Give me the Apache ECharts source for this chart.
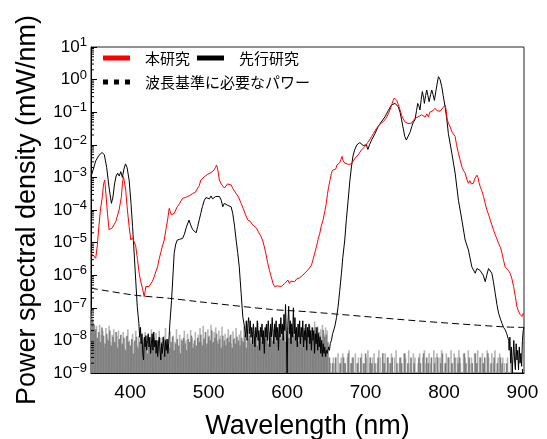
<!DOCTYPE html>
<html>
<head>
<meta charset="utf-8">
<script src="https://cdn.jsdelivr.net/npm/echarts@6/dist/echarts.min.js"></script>
<style>
  html, body { margin: 0; padding: 0; background: #fff; }
  #chart { width: 547px; height: 439px; }
</style>
</head>
<body>
<div id="chart"></div>
<script>
// Axis ticks
const xTickLabels = [400, 500, 600, 700, 800, 900];
const yTickExponents = [1, 0, -1, -2, -3, -4, -5, -6, -7, -8, -9];
const yMinorMantissas = [2, 3, 4, 5, 6, 7, 8, 9];

// Power spectral density of this work, [wavelength nm, mW/nm]
const thisStudy = [
  [350, 4.7e-6], [353, 4.0e-6], [356, 3.3e-6], [358, 7.9e-6], [360, 3.1e-5], [362, 1.0e-4],
  [364.5, 2.6e-4], [366, 6.3e-4], [367.5, 8.3e-4], [369, 3.2e-4], [371, 7.9e-5], [373, 2.5e-5],
  [375, 2.5e-5], [377, 2.8e-5], [379, 3.2e-5], [381.6, 4.4e-5], [384, 5.0e-5], [385.8, 1.0e-4],
  [388.8, 2.6e-4], [390, 6.3e-4], [391.4, 1.05e-3], [392.5, 1.0e-3], [394.3, 4.1e-4], [396, 1.26e-4],
  [398.6, 3.1e-5], [400.8, 1.2e-5], [403, 1.4e-5], [405, 1.5e-5], [407, 7.9e-6], [409.3, 3.0e-6],
  [411.4, 1.15e-6], [413.5, 6.3e-7], [415.6, 4.0e-7], [417.8, 2.2e-7], [419, 3.2e-7], [420, 4.5e-7],
  [422, 5.0e-7], [424, 4.5e-7], [426.3, 4.0e-7], [428, 6.3e-7], [430.6, 8.9e-7], [432.5, 1.26e-6],
  [434.8, 1.8e-6], [437, 3.2e-6], [439, 5.0e-6], [441, 7.9e-6], [443.4, 1.2e-5], [445.5, 2.5e-5],
  [447.6, 4.9e-5], [449.7, 1.12e-4], [451, 1.0e-4], [452.5, 7.1e-5], [454, 6.3e-5], [456, 7.9e-5],
  [458, 1.0e-4], [460, 1.26e-4], [463, 1.6e-4], [466.8, 2.3e-4], [470, 2.4e-4], [473, 2.6e-4],
  [476, 2.8e-4], [479.6, 3.2e-4], [483, 3.5e-4], [486, 4.7e-4], [488, 5.6e-4], [490, 8.3e-4],
  [492, 8.9e-4], [494.5, 1.05e-3], [497, 1.12e-3], [499, 1.26e-3], [501, 1.35e-3], [503, 1.4e-3],
  [505, 1.6e-3], [507, 1.7e-3], [508.5, 2.0e-3], [510, 2.4e-3], [511.5, 1.8e-3], [513.7, 8.3e-4],
  [516, 6.3e-4], [518, 5.6e-4], [520, 4.7e-4], [522, 5.0e-4], [524, 6.3e-4], [526, 5.6e-4],
  [528.6, 5.9e-4], [531, 4.5e-4], [533, 4.0e-4], [535, 3.2e-4], [538, 2.5e-4], [541.4, 1.6e-4],
  [544, 1.12e-4], [547, 7.1e-5], [550, 4.9e-5], [553, 4.5e-5], [556, 3.5e-5], [558.4, 3.9e-5],
  [561, 2.8e-5], [564, 2.0e-5], [567, 1.5e-5], [569, 1.12e-5], [571, 7.4e-6], [573, 4.5e-6],
  [575.4, 2.3e-6], [577.5, 1.4e-6], [579.8, 8.9e-7], [582, 5.6e-7], [584, 4.5e-7], [586, 4.0e-7],
  [588, 4.7e-7], [590, 4.2e-7], [592.6, 4.5e-7], [595, 5.0e-7], [597, 5.6e-7], [599, 6.3e-7],
  [601, 7.1e-7], [603, 5.6e-7], [605, 6.6e-7], [607, 6.0e-7], [609.6, 6.3e-7], [612, 7.6e-7],
  [614, 7.1e-7], [616, 8.3e-7], [618, 8.9e-7], [620, 1.0e-6], [622, 8.9e-7], [624, 1.26e-6],
  [626.6, 1.45e-6], [629, 1.5e-6], [631, 2.0e-6], [633, 3.0e-6], [635, 4.5e-6], [637.3, 7.4e-6],
  [639.5, 1.26e-5], [641.6, 1.9e-5], [643.5, 3.2e-5], [645.8, 4.9e-5], [648, 8.9e-5], [650, 1.6e-4],
  [651.5, 3.2e-4], [653, 5.2e-4], [655, 8.9e-4], [656.5, 1.35e-3], [658, 1.66e-3], [659.8, 1.9e-3],
  [662, 1.8e-3], [663.5, 2.4e-3], [665, 2.4e-3], [667, 2.8e-3], [668.5, 3.5e-3], [670, 4.4e-3],
  [671.5, 3.2e-3], [673.5, 2.75e-3], [676, 2.8e-3], [678, 2.5e-3], [680, 2.7e-3], [682, 2.6e-3],
  [684.5, 3.2e-3], [687, 4.0e-3], [690.5, 4.9e-3], [693, 5.6e-3], [695, 7.1e-3], [697, 7.9e-3],
  [699, 8.7e-3], [701, 1.0e-2], [703, 1.2e-2], [705, 1.4e-2], [707.7, 1.8e-2], [710, 2.2e-2],
  [712, 2.5e-2], [714, 3.2e-2], [716, 3.6e-2], [718, 4.2e-2], [720, 4.5e-2], [722, 5.0e-2],
  [724.7, 5.8e-2], [727, 7.1e-2], [729, 8.9e-2], [731, 0.117], [733, 0.158], [735, 0.224],
  [736.6, 0.27], [738, 0.28], [739.6, 0.234], [741.5, 0.178], [744, 0.117], [746, 7.9e-2],
  [748, 6.3e-2], [750, 5.1e-2], [752, 5.0e-2], [754, 4.5e-2], [756, 5.0e-2], [758.8, 4.6e-2],
  [761, 5.6e-2], [763, 6.5e-2], [765, 6.6e-2], [767, 7.2e-2], [769, 6.3e-2], [771.6, 8.3e-2],
  [774, 7.9e-2], [776, 7.1e-2], [778, 8.9e-2], [780, 7.2e-2], [782, 0.1], [784, 8.9e-2],
  [786, 0.112], [788.6, 0.132], [791, 0.112], [793, 0.126], [795, 0.107], [797.2, 0.117],
  [799, 0.141], [801.4, 0.166], [802.5, 0.126], [804, 6.3e-2], [805.6, 4.6e-2], [808, 3.5e-2],
  [810, 2.5e-2], [812, 2.2e-2], [814.2, 1.8e-2], [816, 1.0e-2], [818.4, 5.5e-3], [820.5, 3.5e-3],
  [822.8, 2.1e-3], [825, 1.6e-3], [827, 1.35e-3], [829, 8.9e-4], [831.2, 6.6e-4], [833, 7.9e-4],
  [835, 6.3e-4], [837.6, 6.6e-4], [839, 8.9e-4], [840.5, 7.9e-4], [842, 1.17e-3], [843.5, 1.0e-3],
  [844.5, 7.1e-4], [846.2, 5.2e-4], [848, 4.0e-4], [850.4, 2.6e-4], [852.5, 1.6e-4], [854.7, 1.0e-4],
  [857, 7.1e-5], [859, 4.9e-5], [861, 3.5e-5], [863, 2.5e-5], [865, 1.8e-5], [867, 1.4e-5],
  [869.6, 9.5e-6], [872, 7.1e-6], [874, 4.7e-6], [876, 2.8e-6], [878, 1.8e-6], [880, 1.6e-6],
  [882, 1.4e-6], [884.4, 1.15e-6], [886.5, 7.9e-7], [888.7, 4.5e-7], [891, 2.2e-7], [893, 1.07e-7],
  [895, 7.9e-8], [897, 6.3e-8], [899.4, 5.4e-8], [901, 6.8e-8]
];

// Power spectral density of the earlier work, [wavelength nm, mW/nm]
const prevStudy = [
  [350, 1.05e-3], [353, 1.8e-3], [356, 3.2e-3], [360, 4.7e-3], [364, 5.8e-3], [367, 5.0e-3],
  [370, 2.0e-3], [373, 5.0e-4], [376, 1.6e-4], [378, 2.5e-4], [380, 6.3e-4], [382, 1.1e-3],
  [384, 1.35e-3], [386, 1.1e-3], [388, 1.5e-3], [390, 1.0e-3], [392, 1.8e-3], [394, 2.6e-3],
  [396, 2.0e-3], [398.6, 8.3e-4], [401, 1.6e-4], [403, 3.1e-5], [405, 4.8e-6], [407, 7.1e-7],
  [409, 1.07e-7], [411, 3.4e-8],
  [412, 1.26e-8], [413, 2.5e-8], [414, 7.9e-9], [415, 1.6e-8], [416, 4.0e-9], [417, 2.5e-9],
  [418, 1.26e-8], [419, 6.3e-9], [420, 1.4e-8], [421, 5.0e-9], [422, 1.0e-8], [423, 1.6e-8],
  [424, 6.3e-9], [425, 1.26e-8], [426, 4.0e-9], [427, 7.9e-9], [428, 1.6e-8], [429, 5.0e-9],
  [430, 1.8e-8], [431, 6.3e-9], [432, 1.0e-8], [433, 4.0e-9], [434, 1.0e-8], [435, 3.2e-9],
  [436, 7.9e-9], [437, 1.26e-8], [438, 5.0e-9], [439, 2.5e-9], [440, 7.9e-9], [441, 4.0e-9],
  [442, 1.26e-8], [443, 6.3e-9], [444, 3.2e-9], [445, 1.0e-8], [446, 5.0e-9], [447, 1.1e-8],
  [448, 4.0e-9], [449, 7.9e-9],
  [450.5, 3.2e-8], [452.7, 1.7e-7], [454.5, 1.0e-6], [456, 4.7e-6], [458, 8.9e-6], [460, 1.2e-5],
  [463, 1.26e-5], [466.8, 1.35e-5], [469, 1.8e-5], [472, 3.2e-5], [475, 4.9e-5], [477, 3.5e-5],
  [479.6, 2.5e-5], [482, 2.8e-5], [484, 2.0e-5], [486, 3.1e-5], [488, 5.0e-5], [490, 7.9e-5],
  [492, 1.26e-4], [494.5, 2.0e-4], [496.5, 2.4e-4], [498.7, 2.6e-4], [501, 2.2e-4], [503, 2.7e-4],
  [505, 2.2e-4], [507, 2.4e-4], [509, 2.6e-4], [511, 2.3e-4], [513.7, 2.6e-4], [516, 2.0e-4],
  [518, 1.26e-4], [520, 1.6e-4], [522, 1.8e-4], [524, 1.4e-4], [526, 1.6e-4], [528.6, 1.26e-4],
  [530.7, 7.9e-5], [533, 3.2e-5], [535, 1.2e-5], [537, 5.0e-6], [539, 1.8e-6], [541.4, 2.8e-7],
  [543.5, 5.4e-8], [545.7, 2.6e-8],
  [546, 2.5e-8], [547, 1.26e-8], [548, 4.0e-8], [549, 1.0e-8], [550, 3.2e-8], [551, 5.0e-8],
  [552, 1.6e-8], [553, 4.0e-8], [554, 1.26e-8], [555, 2.5e-8], [556, 7.9e-9], [557, 3.2e-8],
  [558, 1.6e-8], [559, 6.3e-9], [560, 2.5e-8], [561, 1.26e-8], [562, 4.0e-8], [563, 1.0e-8],
  [564, 2.0e-8], [565, 5.0e-9], [566, 2.5e-8], [567, 1.26e-8], [568, 3.2e-8], [569, 7.9e-9],
  [570, 2.0e-8], [571, 4.0e-9], [572, 2.5e-8], [573, 1.26e-8], [574, 3.2e-8], [575, 1.0e-8],
  [576, 4.0e-8], [577, 1.6e-8], [578, 6.3e-9], [579, 3.2e-8], [580, 1.26e-8], [581, 5.0e-8],
  [582, 1.6e-8], [583, 7.9e-9], [584, 3.2e-8], [585, 1.26e-8], [586, 4.0e-8], [587, 1.0e-8],
  [588, 2.5e-8], [589, 5.0e-9], [590, 3.2e-8], [591, 1.26e-8], [592, 5.0e-8], [593, 1.6e-8],
  [594, 3.2e-8], [595, 1.0e-8], [596, 6.3e-8], [597, 2.0e-8], [598, 1.26e-7], [599, 1.6e-8],
  [600, 1.0e-9], [601, 3.2e-8], [602, 1.12e-7], [603, 1.6e-8], [604, 4.0e-8], [605, 7.9e-9],
  [606, 3.2e-8], [607, 1.26e-8], [608, 1.0e-7], [609, 1.6e-8], [610, 5.0e-8], [611, 1.0e-8],
  [612, 2.5e-8], [613, 6.3e-9], [614, 3.2e-8], [615, 1.26e-8], [616, 4.0e-8], [617, 7.9e-9],
  [618, 2.5e-8], [619, 1.26e-8], [620, 4.0e-8], [621, 6.3e-9], [622, 2.0e-8], [623, 1.0e-8],
  [624, 3.2e-8], [625, 5.0e-9], [626, 2.5e-8], [627, 1.26e-8], [628, 3.2e-8], [629, 7.9e-9],
  [630, 2.0e-8], [631, 5.0e-9], [632, 2.5e-8], [633, 1.0e-8], [634, 2.0e-8], [635, 4.0e-9],
  [636, 1.6e-8], [637, 7.9e-9], [638, 2.5e-8], [639, 5.0e-9], [640, 1.6e-8], [641, 6.3e-9],
  [642, 1.26e-8], [643, 4.0e-9], [644, 1.0e-8], [645, 3.2e-9], [646, 7.9e-9], [647, 4.0e-9],
  [648, 6.3e-9], [649, 3.2e-9], [650, 5.0e-9], [651, 4.0e-9], [652, 4.5e-9], [653, 6.3e-9],
  [654, 5.0e-9], [655, 7.9e-9],
  [656.5, 1.0e-8], [658, 1.6e-8], [660.7, 2.6e-8], [663, 5.0e-8], [665, 1.07e-7], [667, 3.2e-7],
  [669.3, 1.15e-6], [671, 3.5e-6], [673.5, 1.2e-5], [675.5, 5.0e-5], [677.8, 2.0e-4], [680, 7.9e-4],
  [682, 2.1e-3], [684, 4.5e-3], [686, 6.9e-3], [689, 1.0e-2], [692.7, 1.17e-2], [695, 1.05e-2],
  [697, 9.5e-3], [699, 8.7e-3], [701, 1.0e-2], [703, 7.2e-3], [705, 1.0e-2], [707.7, 1.4e-2],
  [712, 2.2e-2], [716, 3.6e-2], [720, 5.0e-2], [724.7, 7.2e-2], [729, 0.112], [733, 0.166],
  [737.5, 0.186], [741.7, 0.148], [744, 0.1], [746, 5.8e-2], [748, 3.2e-2], [750, 1.8e-2],
  [752, 1.4e-2], [754.5, 1.4e-2], [757, 2.5e-2], [758.8, 3.6e-2], [761, 5.0e-2], [763, 5.8e-2],
  [765, 0.112], [766.5, 0.186], [768, 0.158], [769.4, 0.117], [771, 0.25], [772.4, 0.43],
  [774, 0.28], [775, 0.186], [776.5, 0.32], [778, 0.48], [779.5, 0.32], [781, 0.21],
  [783, 0.35], [784.4, 0.48], [786, 0.35], [787.8, 0.23], [790, 0.5], [792.9, 1.23],
  [795, 1.0], [797.2, 0.6], [799, 0.32], [801.4, 0.148], [803.5, 6.3e-2], [805.6, 2.2e-2],
  [810, 5.5e-3], [814.2, 1.35e-3], [818.4, 2.0e-4], [822.8, 4.9e-5], [827, 1.2e-5], [829, 1.35e-5],
  [831.2, 5.9e-6], [835.5, 1.8e-6], [839.8, 1.15e-6], [842, 1.6e-6], [844, 1.8e-6], [846, 1.4e-6],
  [848.3, 1.45e-6], [850, 1.0e-6], [852.6, 6.3e-7], [854.5, 1.0e-6], [856.8, 1.6e-6], [859, 1.4e-6],
  [861, 1.15e-6], [863, 6.3e-7], [865.3, 2.8e-7], [867.5, 1.26e-7], [869.6, 6.8e-8], [872, 4.5e-8],
  [874, 3.3e-8], [876, 2.5e-8], [878, 2.1e-8], [880, 1.6e-8], [882.5, 1.0e-8],
  [883, 5.0e-9], [884, 1.26e-8], [885, 2.0e-9], [886, 6.3e-9], [887, 1.0e-9], [888, 3.2e-9],
  [889, 1.0e-8], [890, 2.5e-9], [891, 1.26e-9], [892, 7.9e-9], [893, 2.5e-9], [894, 5.0e-9],
  [895, 1.26e-9], [896, 6.3e-9], [897, 2.0e-9], [898, 4.0e-9], [899, 1.6e-9], [900, 1.0e-8],
  [901, 2.0e-8], [902, 2.5e-8]
];

// Power needed for the wavelength reference, [wavelength nm, mW/nm]
const requiredPower = [
  [350, 4.0e-7], [405, 2.45e-7], [450, 1.95e-7], [486, 1.55e-7], [580, 8.9e-8],
  [625, 7.6e-8], [765, 4.0e-8], [876, 2.6e-8], [902, 2.5e-8]
];

// Detector noise floor, sampled every 2 nm, in pW/nm
const noiseStepNm = 2;
const noiseDarkStartNm = 350;
const noiseDarkPW = [
  80, 45, 30, 22, 12, 18, 9, 25, 14, 8,
  16, 10, 20, 7, 13, 9, 18, 6, 11, 15,
  8, 12, 5, 14, 9, 7, 11, 4, 10, 13,
  6, 9, 12, 5, 8, 10, 4, 11, 7, 9,
  12, 5, 8, 10, 6, 9, 4, 11, 7, 10,
  6, 9, 13, 5, 8, 11, 7, 4, 10, 12,
  8, 5, 11, 9, 14, 6, 10, 7, 12, 9,
  15, 7, 11, 18, 8, 13, 10, 20, 9, 12,
  16, 8, 11, 6, 14, 10, 7, 12, 9, 15,
  6, 11, 8, 13, 10, 7, 12, 9, 15, 6,
  11, 14, 8, 18, 10, 13, 7, 16, 12, 9,
  20, 11, 15, 8, 18, 12, 10, 22, 9, 14,
  17, 11, 25, 13, 9, 19, 12, 30, 10, 16,
  13, 22, 9, 18, 12, 15, 24, 10, 17, 13,
  20, 11, 16, 26, 12, 18, 14, 10, 21, 13,
  15, 9, 3, 0, 2, 0, 3, 0, 0, 2,
  0, 3, 2, 0, 4, 0, 2, 3, 0, 0,
  2, 0, 3, 0, 2, 4, 0, 0, 3, 2,
  0, 2, 0, 3, 0, 0, 4, 2, 0, 3,
  0, 2, 3, 0, 0, 2, 0, 3, 2, 0,
  4, 0, 2, 0, 3, 0, 2, 0, 0, 3,
  2, 0, 4, 0, 3, 2, 0, 3, 0, 2,
  0, 3, 0, 2, 4, 0, 2, 0, 3, 0,
  2, 0, 3, 0, 2, 3, 0, 0, 4, 2,
  0, 3, 0, 2, 0, 4, 2, 0, 3, 0,
  2, 3, 0, 4, 0, 2, 0, 3, 0, 2,
  0, 3, 2, 0, 0, 2, 0, 0, 0, 0,
  0, 0, 0, 0, 0, 0
];
const noiseLightStartNm = 351;
const noiseLightPW = [
  60, 35, 20, 28, 10, 30, 15, 20, 6, 24,
  12, 28, 9, 15, 22, 8, 14, 20, 10, 7,
  18, 6, 13, 22, 10, 5, 16, 9, 20, 7,
  14, 25, 8, 11, 18, 6, 15, 9, 22, 5,
  10, 17, 7, 20, 12, 5, 14, 24, 8, 11,
  19, 6, 14, 9, 22, 5, 15, 11, 7, 20,
  10, 16, 6, 21, 12, 8, 18, 5, 15, 24,
  9, 28, 12, 6, 22, 14, 30, 8, 18, 25,
  10, 20, 14, 26, 7, 16, 11, 22, 13, 8,
  19, 12, 24, 8, 15, 20, 10, 27, 13, 9,
  22, 15, 10, 28, 13, 19, 35, 11, 24, 16,
  12, 30, 18, 14, 26, 9, 22, 33, 15, 20,
  28, 13, 22, 40, 16, 25, 12, 35, 18, 27,
  21, 14, 32, 17, 25, 11, 30, 19, 23, 28,
  15, 24, 38, 13, 27, 18, 22, 30, 16, 25,
  20, 0, 2, 0, 3, 2, 0, 4, 2, 3,
  4, 2, 0, 3, 5, 2, 3, 0, 4, 2,
  3, 0, 4, 2, 0, 3, 5, 2, 0, 3,
  4, 0, 2, 5, 3, 0, 2, 4, 0, 3,
  2, 4, 0, 3, 5, 0, 2, 3, 0, 4,
  3, 0, 5, 2, 0, 4, 3, 0, 2, 4,
  0, 3, 5, 2, 0, 4, 2, 0, 5, 3,
  4, 0, 3, 5, 0, 2, 4, 3, 0, 5,
  2, 4, 0, 3, 5, 2, 0, 4, 3, 0,
  5, 2, 3, 0, 4, 2, 5, 0, 3, 4,
  2, 0, 5, 3, 0, 4, 2, 5, 0, 3,
  4, 0, 3, 2, 0, 3, 0, 2, 0, 0,
  0, 0, 0, 0, 0
];

const X_MIN = 350, X_MAX = 902;
const Y_MIN = Math.pow(10, Math.min(...yTickExponents));
const Y_MAX = Math.pow(10, Math.max(...yTickExponents));
const PW_TO_MW = 1e-9;

function noiseSeriesData(startNm, valuesPW) {
  return valuesPW
    .map((p, i) => [startNm + i * noiseStepNm, p * PW_TO_MW])
    .filter(d => d[1] > Y_MIN);
}

function noiseRenderer(color) {
  return function (params, api) {
    const x = api.value(0);
    const top = api.coord([x, api.value(1)]);
    const base = api.coord([x, Y_MIN]);
    return {
      type: 'line',
      shape: { x1: top[0], y1: base[1], x2: top[0], y2: top[1] },
      style: { stroke: color, lineWidth: 1.6 }
    };
  };
}

// Log-spaced minor ticks (2..9 in each decade) on the left axis
const minorTickData = [];
yTickExponents.slice(1).forEach(e => {
  yMinorMantissas.forEach(m => minorTickData.push([X_MIN, m * Math.pow(10, e)]));
});

const labelFont = 'Liberation Sans, Arial, sans-serif';
const chart = echarts.init(document.getElementById('chart'), null, { renderer: 'canvas' });

chart.setOption({
  animation: false,
  backgroundColor: '#fff',
  grid: {
    left: 91, right: 23, top: 47, bottom: 66,
    show: true, borderColor: '#222', borderWidth: 1,
    containLabel: false, outerBoundsMode: 'none'
  },
  legend: {
    left: 103, top: 49.5, width: 200, padding: 0,
    itemGap: 7, itemWidth: 27, itemHeight: 5,
    selectedMode: false,
    textStyle: {
      fontFamily: 'Noto Sans CJK JP', fontSize: 15, color: '#000',
      lineHeight: 17, padding: [0, 0, 0, 10]
    },
    data: [
      { name: '本研究', icon: 'rect' },
      { name: '先行研究', icon: 'rect' },
      { name: '波長基準に必要なパワー', icon: 'path://M0,0h5v5h-5zM11,0h5v5h-5zM22,0h5v5h-5z' }
    ]
  },
  xAxis: {
    type: 'value', min: X_MIN, max: X_MAX, interval: 50,
    name: 'Wavelength (nm)', nameLocation: 'middle', nameGap: 40,
    nameTextStyle: { fontFamily: labelFont, fontSize: 27, color: '#000' },
    axisLine: { show: true, lineStyle: { color: '#000', width: 1 } },
    axisTick: { show: true, inside: true, length: 4, lineStyle: { color: '#000' } },
    splitLine: { show: false },
    axisLabel: {
      interval: 0, margin: 10, showMaxLabel: false,
      fontFamily: labelFont, fontSize: 19, color: '#000',
      formatter: v => (xTickLabels.includes(v) ? String(v) : '')
    }
  },
  yAxis: {
    type: 'log', logBase: 10, min: Y_MIN, max: Y_MAX, splitNumber: 10,
    name: 'Power spectral density (mW/nm)', nameLocation: 'middle', nameGap: 50, nameRotate: 90,
    nameTextStyle: { fontFamily: labelFont, fontSize: 27, color: '#000' },
    axisLine: { show: true, lineStyle: { color: '#000', width: 1 } },
    axisTick: { show: true, inside: true, length: 6, lineStyle: { color: '#000' } },
    splitLine: { show: false },
    axisLabel: {
      margin: 4,
      formatter: v => {
        const e = Math.round(Math.log10(v));
        return '{b|10}{s|' + (e < 0 ? '\u2212' + (-e) : e) + '}';
      },
      rich: {
        b: { fontFamily: labelFont, fontSize: 17, lineHeight: 22, color: '#000' },
        s: { fontFamily: labelFont, fontSize: 13, lineHeight: 14, verticalAlign: 'top', color: '#000' }
      }
    }
  },
  series: [
    {
      name: 'noise-light', type: 'custom', silent: true, z: 1,
      renderItem: noiseRenderer('#b5b5b5'),
      data: noiseSeriesData(noiseLightStartNm, noiseLightPW)
    },
    {
      name: 'noise-dark', type: 'custom', silent: true, z: 1,
      renderItem: noiseRenderer('#7f7f7f'),
      data: noiseSeriesData(noiseDarkStartNm, noiseDarkPW)
    },
    {
      name: 'minor-ticks', type: 'custom', silent: true, z: 5,
      renderItem: (params, api) => {
        const p = api.coord([api.value(0), api.value(1)]);
        return {
          type: 'line',
          shape: { x1: p[0], y1: p[1], x2: p[0] + 3, y2: p[1] },
          style: { stroke: '#000', lineWidth: 1 }
        };
      },
      data: minorTickData
    },
    {
      name: '波長基準に必要なパワー', type: 'line', z: 3,
      color: '#000', showSymbol: false, smooth: 0.3,
      lineStyle: { color: '#000', width: 1, type: [7, 4] },
      data: requiredPower
    },
    {
      name: '先行研究', type: 'line', z: 4,
      color: '#000', showSymbol: false,
      lineStyle: { color: '#000', width: 1 },
      data: prevStudy
    },
    {
      name: '本研究', type: 'line', z: 5,
      color: '#ff0000', showSymbol: false,
      lineStyle: { color: '#ff0000', width: 1 },
      data: thisStudy
    }
  ]
});
</script>
</body>
</html>
